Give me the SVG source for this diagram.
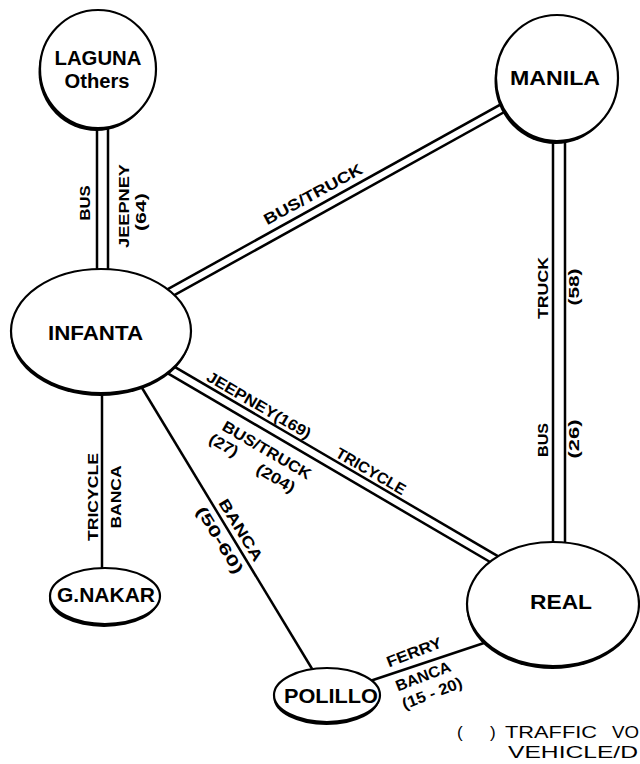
<svg xmlns="http://www.w3.org/2000/svg" width="640" height="764" viewBox="0 0 640 764">
<style>
.bg{fill:#fff}
.shadow{fill:#000}
.node{fill:#fff;stroke:#000;stroke-width:2.2}
.nt{font-family:"Liberation Sans",Arial,sans-serif;font-weight:bold;font-size:20px;fill:#000;text-anchor:middle}
.lbl{font-family:"Liberation Sans",Arial,sans-serif;font-weight:bold;font-size:15.5px;fill:#000;text-anchor:middle}
.leg{font-family:"Liberation Sans",Arial,sans-serif;font-size:17px;fill:#000}
.dblk{stroke:#000;fill:none;stroke-linecap:butt}
.dwht{stroke:#fff;fill:none;stroke-linecap:butt}
.single{stroke:#000;stroke-width:2.5;fill:none}
</style>
<rect class="bg" x="0" y="0" width="640" height="764"/>
<g id="connectors">
  <line class="dblk" x1="102.5" y1="69" x2="102.5" y2="331" stroke-width="13.5"/>
  <line class="dwht" x1="102.5" y1="69" x2="102.5" y2="331" stroke-width="8.5"/>
  <line class="dblk" x1="559" y1="78" x2="559" y2="604" stroke-width="14.5"/>
  <line class="dwht" x1="559" y1="78" x2="559" y2="604" stroke-width="9.5"/>
  <line class="dblk" x1="101" y1="331" x2="557" y2="78" stroke-width="11"/>
  <line class="dwht" x1="101" y1="331" x2="557" y2="78" stroke-width="6"/>
  <line class="dblk" x1="101" y1="329" x2="540" y2="586" stroke-width="11.5"/>
  <line class="dwht" x1="101" y1="329" x2="540" y2="586" stroke-width="6.5"/>
  <line class="single" x1="102" y1="340" x2="102" y2="590"/>
  <line class="single" x1="133" y1="373" x2="317" y2="677"/>
  <line class="single" x1="370" y1="681" x2="490" y2="641"/>
</g>
<g id="labels">
  <text class="lbl" transform="translate(84,203) rotate(-90)" y="5.5" textLength="35" lengthAdjust="spacingAndGlyphs">BUS</text>
  <text class="lbl" transform="translate(123,206) rotate(-90)" y="5.5" textLength="84" lengthAdjust="spacingAndGlyphs">JEEPNEY</text>
  <text class="lbl" transform="translate(140,212) rotate(-90)" y="5.5" textLength="38" lengthAdjust="spacingAndGlyphs">(64)</text>
  <text class="lbl" transform="translate(313,194) rotate(-28.6)" y="5.5" textLength="110" lengthAdjust="spacingAndGlyphs">BUS/TRUCK</text>
  <text class="lbl" transform="translate(542,288) rotate(-90)" y="5.5" textLength="62" lengthAdjust="spacingAndGlyphs">TRUCK</text>
  <text class="lbl" transform="translate(573,287) rotate(-90)" y="5.5" textLength="37" lengthAdjust="spacingAndGlyphs">(58)</text>
  <text class="lbl" transform="translate(542,440) rotate(-90)" y="5.5" textLength="34" lengthAdjust="spacingAndGlyphs">BUS</text>
  <text class="lbl" transform="translate(573,439) rotate(-90)" y="5.5" textLength="39" lengthAdjust="spacingAndGlyphs">(26)</text>
  <text class="lbl" transform="translate(259,405) rotate(30.2)" y="5.5" textLength="118" lengthAdjust="spacingAndGlyphs">JEEPNEY(169)</text>
  <text class="lbl" transform="translate(371,471) rotate(30.2)" y="5.5" textLength="78" lengthAdjust="spacingAndGlyphs">TRICYCLE</text>
  <text class="lbl" transform="translate(267,450) rotate(30.2)" y="5.5" textLength="100" lengthAdjust="spacingAndGlyphs">BUS/TRUCK</text>
  <text class="lbl" transform="translate(224,445) rotate(30.2)" y="5.5" textLength="31" lengthAdjust="spacingAndGlyphs">(27)</text>
  <text class="lbl" transform="translate(276,478) rotate(30.2)" y="5.5" textLength="42" lengthAdjust="spacingAndGlyphs">(204)</text>
  <text class="lbl" transform="translate(92,497) rotate(-90)" y="5.5" textLength="88" lengthAdjust="spacingAndGlyphs">TRICYCLE</text>
  <text class="lbl" transform="translate(115,497) rotate(-90)" y="5.5" textLength="63" lengthAdjust="spacingAndGlyphs">BANCA</text>
  <text class="lbl" transform="translate(241,530) rotate(58.7)" y="5.5" textLength="70" lengthAdjust="spacingAndGlyphs">BANCA</text>
  <text class="lbl" transform="translate(220,540) rotate(58.7)" y="5.5" textLength="76" lengthAdjust="spacingAndGlyphs">(50-60)</text>
  <text class="lbl" transform="translate(414,652) rotate(-21)" y="5.5" textLength="58" lengthAdjust="spacingAndGlyphs">FERRY</text>
  <text class="lbl" transform="translate(423,676) rotate(-21)" y="5.5" textLength="58" lengthAdjust="spacingAndGlyphs">BANCA</text>
  <text class="lbl" transform="translate(432,693) rotate(-21)" y="5.5" textLength="63" lengthAdjust="spacingAndGlyphs">(15 - 20)</text>
</g>
<g id="node-laguna">
  <ellipse class="shadow" cx="96.5" cy="72" rx="58" ry="59"/>
  <ellipse class="node" cx="98" cy="69" rx="58" ry="59"/>
  <text class="nt" x="98" y="65" textLength="87" lengthAdjust="spacingAndGlyphs">LAGUNA</text>
  <text class="nt" x="97" y="88" textLength="65" lengthAdjust="spacingAndGlyphs">Others</text>
</g>
<g id="node-manila">
  <ellipse class="shadow" cx="555.5" cy="81" rx="61" ry="63"/>
  <ellipse class="node" cx="557" cy="78" rx="61" ry="63"/>
  <text class="nt" x="555" y="85" textLength="90" lengthAdjust="spacingAndGlyphs">MANILA</text>
</g>
<g id="node-infanta">
  <ellipse class="shadow" cx="100.5" cy="334" rx="90" ry="62"/>
  <ellipse class="node" cx="101" cy="331" rx="90" ry="62"/>
  <text class="nt" x="95.5" y="340" textLength="95" lengthAdjust="spacingAndGlyphs">INFANTA</text>
</g>
<g id="node-gnakar">
  <ellipse class="shadow" cx="104" cy="599" rx="55" ry="28"/>
  <ellipse class="node" cx="105" cy="596" rx="55" ry="28"/>
  <text class="nt" x="106" y="602" textLength="98" lengthAdjust="spacingAndGlyphs">G.NAKAR</text>
</g>
<g id="node-real">
  <ellipse class="shadow" cx="552.5" cy="607" rx="86" ry="62"/>
  <ellipse class="node" cx="553" cy="604" rx="86" ry="62"/>
  <text class="nt" x="561" y="609" textLength="62" lengthAdjust="spacingAndGlyphs">REAL</text>
</g>
<g id="node-polillo">
  <ellipse class="shadow" cx="326.5" cy="698" rx="53" ry="27"/>
  <ellipse class="node" cx="327" cy="695" rx="53" ry="27"/>
  <text class="nt" x="331" y="703" textLength="94" lengthAdjust="spacingAndGlyphs">POLILLO</text>
</g>
<g id="legend">
  <text class="leg" x="457" y="738">(</text>
  <text class="leg" x="490" y="738">)</text>
  <text class="leg" x="505" y="738" textLength="92" lengthAdjust="spacingAndGlyphs">TRAFFIC</text>
  <text class="leg" x="612" y="738" textLength="27" lengthAdjust="spacingAndGlyphs">VO</text>
  <text class="leg" x="508" y="758" textLength="130" lengthAdjust="spacingAndGlyphs">VEHICLE/D</text>
</g>
</svg>
